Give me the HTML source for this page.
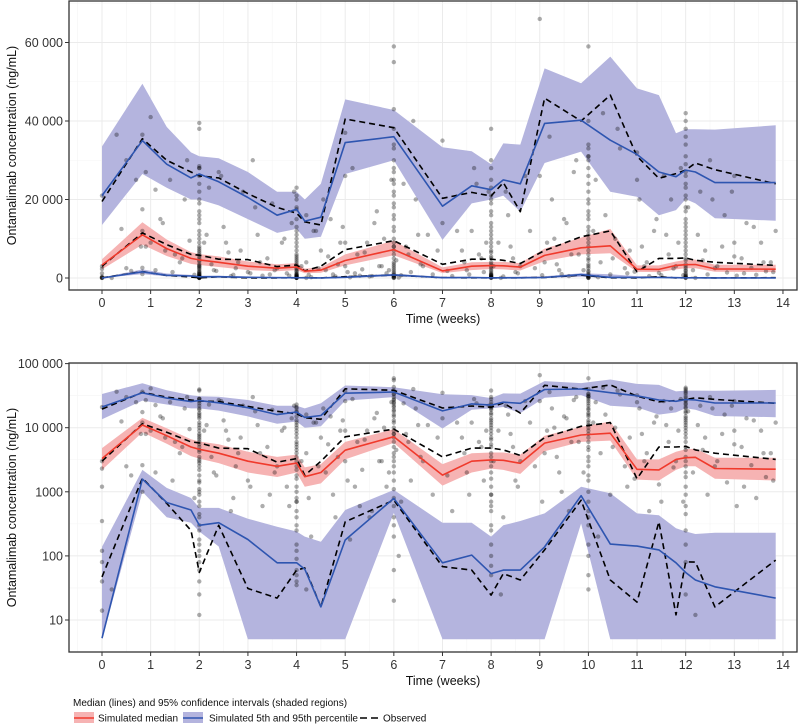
<!DOCTYPE html>
<html><head><meta charset="utf-8">
<style>
body{margin:0;background:#fff;}
svg{display:block;font-family:"Liberation Sans",Arial,sans-serif;}
</style></head>
<body>
<svg id="chart" width="800" height="726" viewBox="0 0 800 726"></svg>
<script>
// ---- data ----
const times   = [0,0.83,1.33,1.83,2.0,2.4,3.0,3.6,4.0,4.17,4.5,5.0,6.0,7.0,7.6,8.0,8.25,8.6,9.1,9.85,10.45,11.0,11.45,11.8,12.0,12.2,12.6,13.85];
const simP95    = [21000,35000,29000,25500,26500,24500,20500,16000,17500,14500,15500,34500,36000,18300,23500,22500,25000,24000,39400,40200,35100,31500,27000,25800,27500,27000,24300,24300];
const simP95Hi  = [33500,49500,38500,32000,31000,30500,27000,22000,22000,20000,24000,45500,42800,33300,32300,29000,34300,34000,53400,49600,56400,48300,46600,36900,37900,37900,37800,38900];
const simP95Lo  = [13500,26500,23000,20000,20000,18500,15000,11500,12500,10000,10500,26500,30000,9700,19000,20000,21000,16900,29300,32200,22000,20700,16000,17300,20100,19000,15200,14600];
const obsP95    = [19500,35500,30000,27000,26000,25500,21500,18000,16500,14300,13500,40500,38300,20300,21800,20900,24300,16900,45800,40000,46600,31000,25400,26600,27500,29300,27600,24000];
const simMed    = [3300,11000,7500,5000,4600,4000,3000,2500,2800,1720,2000,4460,7240,1820,3000,3150,3100,2780,5760,7700,8200,2240,2200,3200,3400,3450,2310,2250];
const simMedHi  = [4800,14200,9800,6600,6100,5500,4200,3500,3800,2400,2700,6000,9500,2700,4000,4100,4100,3800,7500,10300,12500,3200,3200,4200,4600,4700,3400,3400];
const simMedLo  = [2200,8500,5600,3600,3300,2800,2000,1700,2000,1200,1350,3200,5800,1250,2000,2300,2200,1900,4300,6000,6300,1550,1500,2200,2500,2500,1600,1500];
const obsMed    = [3000,11500,8500,6000,5800,4800,4700,2900,3300,1800,3000,7200,9500,3500,4800,4800,4500,3700,7000,10500,12000,1600,5000,5000,5100,4500,4000,3200];
const simP5     = [5.2,1580,680,520,300,330,180,78,78,62,16,177,790,78,103,53,60,60,138,870,153,142,124,78,55,42,33,22];
const simP5Hi   = [138,2200,1150,800,560,560,380,285,240,200,166,520,1070,330,330,200,300,350,460,1200,950,460,430,270,240,220,230,230];
const simP5Lo   = [5,1000,400,330,240,140,5,5,5,5,5,5,470,5,5,5,5,5,5,320,5,5,5,5,5,5,5,5];
const obsP5     = [47,1630,660,250,55,300,31,22,60,65,16,340,740,68,60,24.5,53,42,124,740,42,19,340,12,81,80,16,86];
// observed concentrations (time in weeks, conc in ng/mL)
const obsT = [0,0,0,0,0,0,0,0,0,0.3,0.4,0.5,0.6,0.7,0.8,0.83,0.83,0.83,0.83,0.83,0.9,1.0,1.0,1.1,1.2,1.3,1.4,1.5,1.6,1.7,1.8,
 2,2,2,2,2,2,2,2,2,2,2,2,2,2,2,2,2,2,2,2,2,2,2,2,2,2,2,2,2,2,2.1,2.2,2.3,2.4,2.5,2.6,2.7,2.8,2.9,3.0,3.1,3.2,3.3,3.4,3.5,3.6,3.7,3.8,3.9,
 4,4,4,4,4,4,4,4,4,4,4,4,4,4,4,4,4,4,4,4,4.2,4.2,4.2,4.3,4.4,4.5,4.6,4.7,4.8,4.9,5.0,5.0,5.0,5.0,5.1,5.2,5.3,5.4,5.5,5.6,5.7,5.8,5.9,
 6,6,6,6,6,6,6,6,6,6,6,6,6,6,6,6,6,6,6,6,6.1,6.2,6.3,6.4,6.5,6.6,6.8,7.0,7.0,7.2,7.4,7.5,7.6,7.7,7.8,7.9,
 8,8,8,8,8,8,8,8,8,8,8,8,8,8,8,8,8,8,8,8.2,8.3,8.4,8.5,8.6,8.8,9.0,9.0,9.1,9.2,9.3,9.4,9.5,9.6,9.7,9.8,
 10,10,10,10,10,10,10,10,10,10,10,10,10,10,10,10,10,10,10,10,10.2,10.3,10.5,10.6,10.8,11.0,11.0,11.1,11.2,11.4,11.5,11.6,11.7,11.8,11.9,
 12,12,12,12,12,12,12,12,12,12,12,12,12,12,12,12,12,12,12,12,12.2,12.3,12.4,12.5,12.6,12.8,13.0,13.0,13.0,13.2,13.4,13.6,13.8,
 2,2,2,2,2,2,2,2,2,2,2,2,2,2,2,2,2,2,2,2,2,2,2,2,
 4,4,4,4,4,4,4,4,4,4,4,4,4,4,4,4,4,4,4,4,
 6,6,6,6,6,6,6,6,6,6,6,6,6,6,6,6,6,6,6,6,
 8,8,8,8,8,8,8,8,8,8,8,8,8,8,8,8,8,8,8,8,
 10,10,10,10,10,10,10,10,10,10,10,10,10,10,10,10,10,10,10,10,
 12,12,12,12,12,12,12,12,12,12,12,12,12,12,12,12,12,12,12,12,
 0.2,0.5,0.9,1.1,1.25,1.45,1.65,1.75,1.9,2.15,2.25,2.35,2.45,2.55,2.65,2.75,2.85,3.05,3.15,3.25,3.45,3.55,3.75,3.85,3.95,
 4.1,4.25,4.35,4.45,4.55,4.65,4.75,4.85,4.95,5.05,5.15,5.25,5.35,5.45,5.55,5.65,5.75,5.85,5.95,6.05,6.15,6.25,6.35,6.45,6.55,
 6.7,6.9,7.1,7.3,7.45,7.55,7.65,7.75,7.85,7.95,8.05,8.15,8.25,8.35,8.45,8.55,8.7,8.9,9.05,9.15,9.25,9.35,9.45,9.55,9.65,9.75,9.9,
 10.1,10.15,10.25,10.35,10.45,10.55,10.65,10.75,10.85,10.95,11.05,11.15,11.25,11.35,11.45,11.55,11.65,11.75,11.85,11.95,
 12.05,12.15,12.25,12.35,12.45,12.55,12.65,12.75,12.85,12.95,13.05,13.15,13.25,13.35,13.45,13.55,13.65,13.75,13.85];
const obsC = [21000,3000,120,14,40,350,1200,2300,80,36500,12500,2500,1800,25000,8000,36500,17500,2600,1000,12000,27000,41000,9000,22500,15000,7000,25000,6000,4000,20000,9500,
 39500,38000,28000,26000,22000,20000,17000,15000,12000,10000,8000,7000,6000,4500,3500,2500,1500,1000,700,450,300,180,120,80,40,25,12,5000,3000,28500,9000,23000,2000,27000,13000,6500,800,4000,22000,1500,30000,11000,600,5000,19000,2500,9000,1200,14000,700,
 23000,21000,18000,17500,15000,12000,10000,8000,6000,5000,3500,2500,1800,1200,800,500,300,150,60,30,16000,4000,200,12000,7000,2000,15000,400,9000,3000,37000,26000,9000,180,1200,600,6500,400,14000,3000,10000,2000,8000,
 59000,55000,43000,38000,34000,30000,27000,25000,22000,19000,16000,13000,10000,7000,5000,3000,1500,800,400,100,24000,6000,40000,11000,3000,900,14000,35000,500,7000,2000,12000,24000,5000,9000,600,
 38000,28000,23000,21000,19000,16000,13000,11000,9000,7000,5500,4000,3000,2000,1200,700,300,70,25,22000,8000,1500,3000,12000,26000,66000,4000,36000,10000,2000,15000,500,27000,6000,31000,
 59000,40000,34000,31000,28000,26000,22000,19000,17000,15000,12000,10000,8000,6000,4500,3000,1800,1000,500,200,42000,5000,38000,1200,25000,32000,8000,4000,15000,700,11000,20000,3000,28000,13000,
 42000,40000,34000,29000,26000,23000,20000,18000,15000,12000,10000,8000,6000,4500,3000,2000,1200,600,250,12,22000,7000,30000,2500,16000,5500,26000,9000,1200,13000,4000,1500,28000,
 24000,19000,16000,14000,11000,9000,7500,6500,5500,4200,3200,2800,2200,1800,1400,1100,900,600,400,250,150,100,60,35,
 20000,13000,11000,9000,7000,5500,4500,4000,3000,2200,1600,1000,700,400,250,120,90,50,40,20,
 33000,28000,24000,21000,18000,15000,12000,9000,8000,6000,4000,3500,2500,2000,1100,600,300,200,60,900,
 30000,25000,20000,17000,14000,12000,10000,8000,6500,5000,3500,2500,1600,900,500,250,150,100,50,30,
 33000,30000,24000,20000,16000,13000,11000,9000,7000,5000,3500,2500,1500,700,400,300,150,100,50,25,
 38000,36000,31000,27000,24000,21000,17000,14000,11000,9000,7000,5000,3500,2500,1700,900,450,150,80,30,
 30000,8000,2000,14000,1500,5000,30000,800,11000,3500,1800,26000,9000,500,2500,7000,1200,18000,4000,900,2000,10000,600,22000,3000,
 800,12000,2500,20000,5500,900,3500,13000,1500,28000,6000,2200,9000,500,17000,3000,1200,25000,4500,700,8000,1500,20000,3500,11000,
 7000,1800,12000,4000,900,28000,6000,1500,22000,3000,9000,400,16000,5000,1200,26000,2500,700,9000,20000,3500,1000,14000,6000,30000,2000,12000,
 25000,4000,16000,900,10000,33000,2500,7000,1600,20000,3000,500,12000,1300,26000,6000,2400,9000,700,18000,
 2000,11000,4500,900,20000,3000,8000,1400,22000,600,5000,14000,2600,800,9000,1700,4000,12000,2500];

// ---- drawing ----
const NS='http://www.w3.org/2000/svg';
const svg=document.getElementById('chart');
function el(tag,attrs,parent){const e=document.createElementNS(NS,tag);for(const k in attrs)e.setAttribute(k,attrs[k]);(parent||svg).appendChild(e);return e;}
const L=69,R=797,X0=102,XS=48.64;
const xs=t=>X0+t*XS;

function panel(name,top,bottom,yfun,ticks,tickLabels,minorTicks,clampMin){
  const g=el('g',{});
  
  
  const cy=v=>yfun(Math.max(v,clampMin));
  for(let t=-0.5;t<=14.5;t+=0.5){
    const l=el('line',{x1:xs(t),x2:xs(t),y1:top,y2:bottom,stroke:Number.isInteger(t)?'#ebebeb':'#f4f4f4','stroke-width':Number.isInteger(t)?1:0.6},g);
    
    
  }
  minorTicks.forEach(v=>{const l=el('line',{x1:L,x2:R,y1:yfun(v),y2:yfun(v),stroke:'#f4f4f4','stroke-width':0.6},g);
    
    });
  ticks.forEach(v=>{const l=el('line',{x1:L,x2:R,y1:yfun(v),y2:yfun(v),stroke:'#ebebeb','stroke-width':1},g);
    
    });
  const clipId='clip-'+name;
  const cp=el('clipPath',{id:clipId},g);el('rect',{x:L,y:top,width:R-L,height:bottom-top},cp);
  const d=el('g',{'clip-path':'url(#'+clipId+')'},g);
  function band(hi,lo,fill,nm){
    let p='';times.forEach((t,i)=>{p+=(i?'L':'M')+xs(t).toFixed(1)+','+cy(hi[i]).toFixed(1);});
    for(let i=times.length-1;i>=0;i--)p+='L'+xs(times[i]).toFixed(1)+','+cy(lo[i]).toFixed(1);
    const b=el('path',{d:p+'Z',fill:fill,stroke:'none'},d);
    
    
  }
  function line(v,stroke,dash,nm){
    const pts=times.map((t,i)=>xs(t).toFixed(1)+','+cy(v[i]).toFixed(1)).join(' ');
    const a={points:pts,fill:'none',stroke:stroke,'stroke-width':1.6,'stroke-linejoin':'round'};
    if(dash)a['stroke-dasharray']=dash;
    const p=el('polyline',a,d);
    
    
  }
  band(simP95Hi,simP95Lo,'#b4b4de','p95-ci-band');
  band(simP5Hi,simP5Lo,'#b4b4de','p5-ci-band');
  band(simMedHi,simMedLo,'#f6b3b3','median-ci-band');
  obsT.forEach((t,i)=>{
    const c=el('circle',{cx:xs(t),cy:cy(obsC[i]),r:2.2,fill:'#000','fill-opacity':0.32},d);
    
    
  });
  line(obsP5,'#000','6,4','obs-p5-line');
  line(simP5,'#2e55b0',null,'sim-p5-line');
  line(obsP95,'#000','6,4','obs-p95-line');
  line(obsMed,'#000','6,4','obs-median-line');
  line(simP95,'#2e55b0',null,'sim-p95-line');
  line(simMed,'#f03a2c',null,'sim-median-line');
  const fr=el('rect',{x:L,y:top,width:R-L,height:bottom-top,fill:'none',stroke:'#333','stroke-width':1.3},g);
  
  
  ticks.forEach((v,i)=>{
    el('line',{x1:L-4,x2:L,y1:yfun(v),y2:yfun(v),stroke:'#333'},g);
    const tx=el('text',{x:L-6,y:yfun(v)+4.5,'text-anchor':'end','font-size':12.5,fill:'#333'},g);
    tx.textContent=tickLabels[i];
    
    
  });
  for(let w=0;w<=14;w++){
    el('line',{x1:xs(w),x2:xs(w),y1:bottom,y2:bottom+4,stroke:'#333'},g);
    const tx=el('text',{x:xs(w),y:bottom+17,'text-anchor':'middle','font-size':12.5,fill:'#333'},g);
    tx.textContent=String(w);
    
    
  }
  const xt=el('text',{x:443,y:bottom+33,'text-anchor':'middle','font-size':12.5,fill:'#111'},g);
  xt.textContent='Time (weeks)';
  
  
  const cyT=(top+bottom)/2;
  const yt=el('text',{x:16,y:cyT,'text-anchor':'middle','font-size':12.5,fill:'#111',transform:'rotate(-90 16 '+cyT+')'},g);
  yt.textContent='Ontamalimab concentration (ng/mL)';
  
  
}
const linTicks=[0,20000,40000,60000];
const linLabels=['0','20 000','40 000','60 000'];
panel('linear-panel',1,290,v=>278-v*0.003925,linTicks,linLabels,[10000,30000,50000,70000],-1e9);
const logTicks=[10,100,1000,10000,100000];
const logLabels=['10','100','1000','10 000','100 000'];
panel('log-panel',363,652,v=>620-(Math.log10(v)-1)*64.1,logTicks,logLabels,[31.6,316,3162,31623],5);

// legend
const lg=el('g',{});


const lt=el('text',{x:73,y:706,'font-size':10,fill:'#111'},lg);
lt.textContent='Median (lines) and 95% confidence intervals (shaded regions)';


function entry(x,fill,stroke,dash,label,tx,nm){
  const g=el('g',{},lg);
  
  
  if(fill)el('rect',{x:x,y:712,width:20,height:11,fill:fill},g);
  const a={x1:x,x2:x+20,y1:718,y2:718,stroke:stroke,'stroke-width':1.6};
  if(dash)a['stroke-dasharray']=dash;
  el('line',a,g);
  const t=el('text',{x:tx,y:721.5,'font-size':10,fill:'#111'},g);
  t.textContent=label;
}
entry(74,'#f6b3b3','#f03a2c',null,'Simulated median',98,'legend-entry-median');
entry(183,'#b4b4de','#2e55b0',null,'Simulated 5th and 95th percentile',209,'legend-entry-percentile');
entry(360,null,'#000','7,4','Observed',383,'legend-entry-observed');
</script>
</body></html>
